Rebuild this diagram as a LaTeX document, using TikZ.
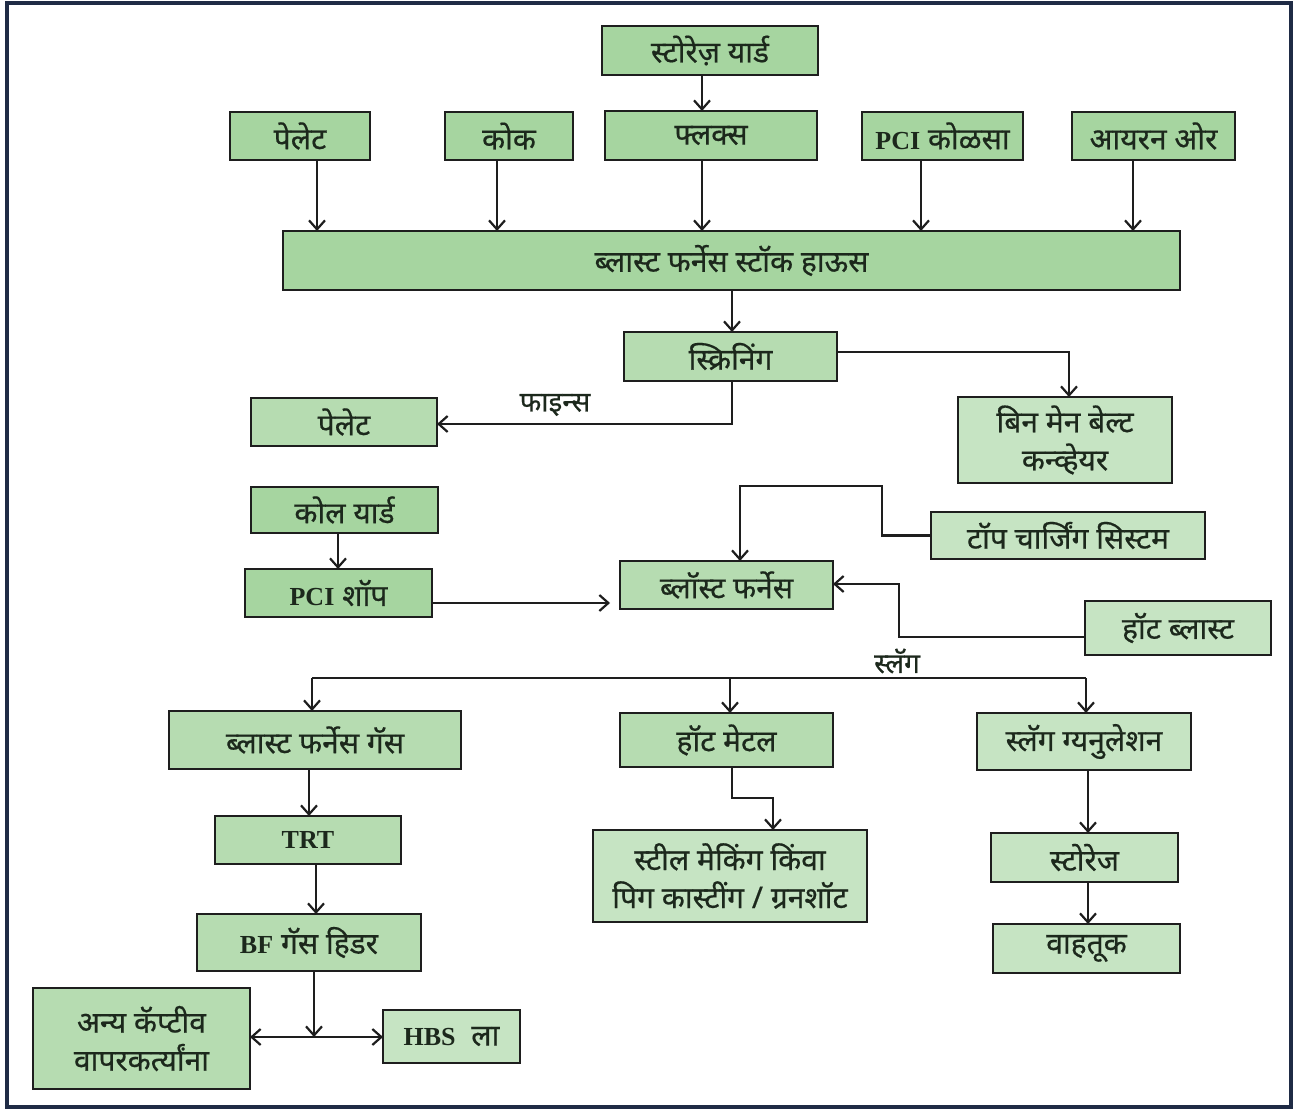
\documentclass[tikz,border=0pt]{standalone}
\usepackage{fontspec}
\setmainfont[Script=Devanagari,FakeBold=0.5]{Noto Sans}
\newfontfamily\latf{Liberation Serif}
\usetikzlibrary{arrows.meta,calc}
\definecolor{gDk}{HTML}{A6D5A0}
\definecolor{gMd}{HTML}{B6DCB1}
\definecolor{gLt}{HTML}{C6E4C3}
\definecolor{txt}{HTML}{1C281C}
\definecolor{lnc}{HTML}{1E1E1E}
\definecolor{frm}{HTML}{1F2B45}
\newcommand\latb[1]{{\fontsize{26}{38}\selectfont\latf\bfseries #1}}
\newcommand\mybox[7][]{%
 \pgfmathsetmacro\myBW{#4-#2}\pgfmathsetmacro\myBH{#5-#3}%
 \pgfmathsetmacro\myCX{(#2+#4)/2}\pgfmathsetmacro\myCY{(#3+#5)/2}%
 \node[box,#1,minimum width=\myBW pt,minimum height=\myBH pt] (#6) at (\myCX,\myCY) {#7};}
\begin{document}
\begin{tikzpicture}[x=1pt,y=-1pt,
  box/.style={draw=lnc,line width=2.2pt,inner sep=0pt,outer sep=0pt,align=center,text=txt,
    font=\fontsize{30}{38}\selectfont},
  dk/.style={fill=gDk},
  md/.style={fill=gMd},
  lt/.style={fill=gLt},
  ln/.style={draw=lnc,line width=2.2pt},
  arr/.style={ln,-{Straight Barb[length=9pt,width=16pt,line width=2.2pt]}},
  lbl/.style={text=txt,inner sep=0pt,font=\fontsize{28}{32}\selectfont}]
\useasboundingbox (0,0) rectangle (1301,1110);
\fill[white] (0,0) rectangle (1301,1110);
\draw[frm,line width=3.5pt] (7,3) rectangle (1291,1107);

\mybox[dk]{602}{26}{818}{75}{sy}{स्टोरेज़ यार्ड}
\mybox[dk]{230}{112}{370}{160}{pa}{पेलेट}
\mybox[dk]{445}{112}{573}{160}{ck}{कोक}
\mybox[dk]{605}{111}{817}{160}{fl}{फ्लक्स}
\mybox[dk]{862}{112}{1023}{160}{pk}{\latb{PCI} कोळसा}
\mybox[dk]{1072}{112}{1235}{160}{io}{आयरन ओर}
\mybox[dk]{283}{231}{1180}{290}{sh}{ब्लास्ट फर्नेस स्टॉक हाऊस}
\mybox[md]{624}{332}{837}{381}{sc}{स्क्रिनिंग}
\mybox[md]{251}{398}{437}{446}{pb}{पेलेट}
\mybox[lt]{958}{397}{1172}{483}{bin}{बिन मेन बेल्ट\\कन्व्हेयर}
\mybox[dk]{251}{487}{438}{533}{cy}{कोल यार्ड}
\mybox[dk]{245}{569}{432}{617}{pcs}{\latb{PCI} शॉप}
\mybox[md]{620}{561}{833}{609}{bf}{ब्लॉस्ट फर्नेस}
\mybox[lt]{931}{512}{1205}{559}{tcs}{टॉप चार्जिंग सिस्टम}
\mybox[lt]{1085}{601}{1271}{655}{hb}{हॉट ब्लास्ट}
\mybox[md]{169}{711}{461}{769}{bfg}{ब्लास्ट फर्नेस गॅस}
\mybox[md]{620}{713}{833}{767}{hm}{हॉट मेटल}
\mybox[lt]{977}{713}{1191}{770}{slg}{स्लॅग ग्यनुलेशन}
\mybox[md]{215}{816}{401}{864}{trt}{\latb{TRT}}
\mybox[lt]{593}{830}{867}{922}{stl}{स्टील मेकिंग किंवा\\पिग कास्टींग / ग्रनशॉट}
\mybox[lt]{991}{833}{1178}{882}{sto}{स्टोरेज}
\mybox[md]{197}{914}{421}{971}{bgh}{\latb{BF} गॅस हिडर}
\mybox[lt]{993}{924}{1180}{973}{vah}{वाहतूक}
\mybox[md]{33}{988}{250}{1089}{any}{अन्य कॅप्टीव\\वापरकर्त्यांना}
\mybox[lt]{383}{1010}{520}{1063}{hbs}{\latb{HBS}\ \ ला}

% top feeds
\draw[arr] (702,0 |- sy.south) -- (702,0 |- fl.north);
\draw[arr] (317,0 |- pa.south) -- (317,0 |- sh.north);
\draw[arr] (497,0 |- ck.south) -- (497,0 |- sh.north);
\draw[arr] (702,0 |- fl.south) -- (702,0 |- sh.north);
\draw[arr] (921,0 |- pk.south) -- (921,0 |- sh.north);
\draw[arr] (1133,0 |- io.south) -- (1133,0 |- sh.north);
\draw[arr] (732,0 |- sh.south) -- (732,0 |- sc.north);
% screening
\draw[arr] (sc.east |- 0,352) -| (1069,0 |- bin.north);
\draw[arr] (732,0 |- sc.south) |- (pb.east |- 0,424);
\node[lbl] (fin) at (555,405) {फाइन्स};
% coal
\draw[arr] (338,0 |- cy.south) -- (338,0 |- pcs.north);
\draw[arr,shorten >=10pt] (pcs.east |- 0,603) -- (bf.west |- 0,603);
% blast furnace inputs
\draw[arr] (tcs.west) -| (882,486) -| (740,0 |- bf.north);
\draw[arr] (hb.west |- 0,637) -| (899,584) -- (bf.east |- 0,584);
% slag bus
\coordinate (busL) at (312,678);
\coordinate (busM) at (730,678);
\coordinate (busR) at (1086,678);
\draw[ln] (busL) -- (busR);
\draw[arr] (busL) -- (busL |- bfg.north);
\draw[arr] (busM) -- (busM |- hm.north);
\draw[arr] (busR) -- (busR |- slg.north);
\node[lbl] (slag) at (897,661) {स्लॅग};
% left column
\draw[arr] (309,0 |- bfg.south) -- (309,0 |- trt.north);
\draw[arr] (316,0 |- trt.south) -- (316,0 |- bgh.north);
\coordinate (sp) at (314,1037);
\draw[arr] (sp |- bgh.south) -- (sp);
\draw[arr] (sp) -- (any.east |- sp);
\draw[arr] (sp) -- (hbs.west |- sp);
% middle column
\draw[arr] (732,0 |- hm.south) |- (773,798) -- (773,0 |- stl.north);
% right column
\draw[arr] (1088,0 |- slg.south) -- (1088,0 |- sto.north);
\draw[arr] (1088,0 |- sto.south) -- (1088,0 |- vah.north);
\end{tikzpicture}
\end{document}
